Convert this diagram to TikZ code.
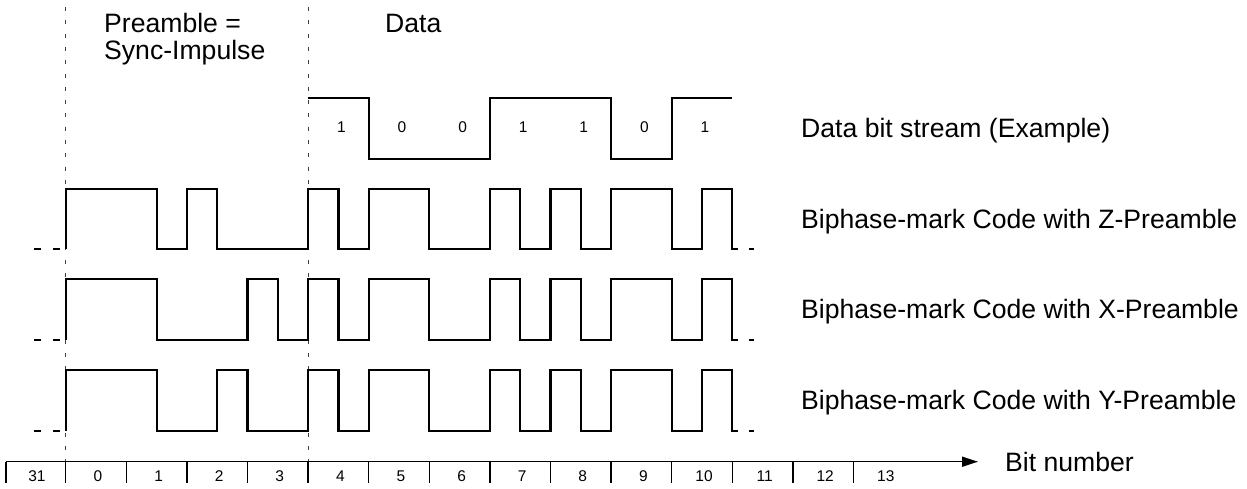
\documentclass[tikz,border=0pt]{standalone}
\usepackage{fontspec}
\setmainfont{Liberation Sans}
\usetikzlibrary{arrows.meta}
\begin{document}
\begin{tikzpicture}[x=1pt,y=-1pt,
  wave/.style={line width=2.2pt, line join=miter},
  guide/.style={line width=0.9pt, dash pattern=on 4pt off 9.3pt, black!75},
  barline/.style={line width=1.5pt},
  big/.style={font=\fontsize{26.6}{30}\selectfont, inner sep=0pt, anchor=base west},
  small/.style={font=\fontsize{15.5}{17}\selectfont, inner sep=0pt}]
\useasboundingbox (0,0) rectangle (1247,488);

% guide lines
\draw[guide] (65.7,7) -- (65.7,462);
\draw[guide] (308.1,7) -- (308.1,462);

% top labels
\node[big] (pre1) at (104,32) {Preamble =};
\node[big] (pre2) at (104,59) {Sync-Impulse};
\node[big] (data) at (385,32) {Data};

% right labels
\node[big] (ldata) at (801,137.7) {Data bit stream (Example)};
\node[big] (lz) at (801,228) {Biphase-mark Code with Z-Preamble};
\node[big] (lx) at (801,318.8) {Biphase-mark Code with X-Preamble};
\node[big] (ly) at (801,409.4) {Biphase-mark Code with Y-Preamble};

\begin{scope}[shift={(65.7pt,0pt)}, x=30.3pt]
  % data bit stream
  \draw[wave] (8,98.3) -| (10,159) -| (14,98.3) -| (18,159) -| (20,98.3) -- (22,98.3);
  \foreach \v [count=\i from 0] in {1,0,0,1,1,0,1}
    \node[small] (d\i) at ({9+2*\i},126.7) [xshift=3pt] {\v};

  % Z preamble
  \draw[wave] (0,249.3) |- (3,189) |- (4,249.3) |- (5,189) |- (8,249.3)
     |- (9,189) |- (10,249.3) |- (12,189) |- (14,249.3) |- (15,189) |- (16,249.3)
     |- (17,189) |- (18,249.3) |- (20,189) |- (21,249.3) |- (22,189) |- (22.19,249.3);
  \draw[wave] (-1.036,249.3) -- (-0.825,249.3) (-0.409,249.3) -- (-0.188,249.3)
     (22.56,249.3) -- (22.73,249.3);

  % X preamble
  \draw[wave] (0,340.3) |- (3,279.3) |- (6,340.3) |- (7,279.3) |- (8,340.3)
     |- (9,279.3) |- (10,340.3) |- (12,279.3) |- (14,340.3) |- (15,279.3) |- (16,340.3)
     |- (17,279.3) |- (18,340.3) |- (20,279.3) |- (21,340.3) |- (22,279.3) |- (22.19,340.3);
  \draw[wave] (-1.036,340.3) -- (-0.825,340.3) (-0.409,340.3) -- (-0.188,340.3)
     (22.56,340.3) -- (22.73,340.3);

  % Y preamble
  \draw[wave] (0,430.7) |- (3,370) |- (5,430.7) |- (6,370) |- (8,430.7)
     |- (9,370) |- (10,430.7) |- (12,370) |- (14,430.7) |- (15,370) |- (16,430.7)
     |- (17,370) |- (18,430.7) |- (20,370) |- (21,430.7) |- (22,370) |- (22.19,430.7);
  \draw[wave] (-1.036,430.7) -- (-0.825,430.7) (-0.409,430.7) -- (-0.188,430.7)
     (22.56,430.7) -- (22.73,430.7);
\end{scope}

% bit number bar
\coordinate (barL) at (6,461.7);
\coordinate (barR) at (978,461.7);
\draw[barline, -{Triangle[length=16pt,width=10pt]}] (barL) -- (barR);
\draw[barline] (barL) -- ++(0,21.6);
\foreach \k in {0,...,13}
  \draw[barline] ({65.7+60.6*\k},461.7) -- ++(0,21.6);
\node[small] (b31) at (37,476) {31};
\foreach \b in {0,...,13}
  \node[small] (b\b) at ({65.7+60.6*(\b+0.5)+2},476) {\b};
\node[big] (bitnum) at (1005,471) {Bit number};
\end{tikzpicture}
\end{document}
